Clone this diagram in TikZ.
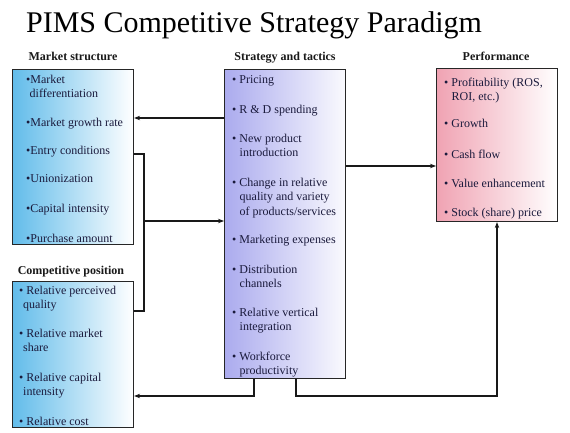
\documentclass[tikz,border=0pt]{standalone}
\usepackage{fontspec}
\setmainfont{Liberation Serif}
\usetikzlibrary{arrows.meta}
\definecolor{txt}{HTML}{1A1A3C}
\definecolor{msblue}{HTML}{62BCEA}
\definecolor{stpurple}{HTML}{ABABEE}
\definecolor{pfpink}{HTML}{F0A3B3}
\newcommand\pbul{\textbullet}
\tikzset{
  box/.style={draw=black!85, line width=1.1pt, inner sep=0pt, anchor=north west, rectangle},
  boxtitle/.style={font=\fontsize{12}{14}\selectfont\bfseries, text=black!90, anchor=base, inner sep=0pt},
  itemtxt/.style={font=\fontsize{12}{14.5}\selectfont, text=txt, anchor=north west, inner sep=0pt, align=left},
  conn/.style={line width=1.1pt, draw=black!90},
  arr/.style={conn, -{Stealth[length=6pt,width=4.5pt]}},
}
\begin{document}
\begin{tikzpicture}[x=1pt,y=-1pt]
\useasboundingbox[fill=white] (0,0) rectangle (570,433);
% title
\node[font=\fontsize{30}{34}\selectfont, anchor=base, inner sep=0pt] (title) at (254,33) {PIMS Competitive Strategy Paradigm};
% boxes
\node[box, minimum width=121pt, minimum height=175pt, left color=msblue, right color=white] (ms) at (12,69) {};
\node[box, minimum width=121pt, minimum height=146pt, left color=msblue, right color=white] (cp) at (12,281) {};
\node[box, minimum width=121pt, minimum height=309pt, left color=stpurple, right color=white!94!stpurple] (st) at (224,69) {};
\node[box, minimum width=121pt, minimum height=153pt, left color=pfpink, right color=white] (pf) at (436,68) {};
% box titles
\node[boxtitle] (tms) at (73,61) {Market structure};
\node[boxtitle] (tcp) at (71,274) {Competitive position};
\node[boxtitle] (tst) at (285,61) {Strategy and tactics};
\node[boxtitle] (tpf) at (496,61) {Performance};
% market structure items
\node[itemtxt] (m1) at (26,74.5) {\pbul Market\\\hspace*{3.5pt}differentiation};
\node[itemtxt] (m2) at (26,117.5) {\pbul Market growth rate};
\node[itemtxt] (m3) at (26,145.5) {\pbul Entry conditions};
\node[itemtxt] (m4) at (26,174.5) {\pbul Unionization};
\node[itemtxt] (m5) at (26,203.5) {\pbul Capital intensity};
\node[itemtxt] (m6) at (26,233.5) {\pbul Purchase amount};
% competitive position items
\node[itemtxt] (c1) at (19,285.5) {\pbul\ Relative perceived\\\hspace*{4pt}quality};
\node[itemtxt] (c2) at (19,328.5) {\pbul\ Relative market\\\hspace*{4pt}share};
\node[itemtxt] (c3) at (19,372.5) {\pbul\ Relative capital\\\hspace*{4pt}intensity};
\node[itemtxt] (c4) at (19,416.5) {\pbul\ Relative cost};
% strategy items
\node[itemtxt] (s1) at (232,75.5) {\pbul\ Pricing};
\node[itemtxt] (s2) at (232,104.5) {\pbul\ R \& D spending};
\node[itemtxt] (s3) at (232,133.5) {\pbul\ New product\\\hspace*{7.5pt}introduction};
\node[itemtxt] (s4) at (232,177.5) {\pbul\ Change in relative\\\hspace*{7.5pt}quality and variety\\\hspace*{7.5pt}of products/services};
\node[itemtxt] (s5) at (232,234.5) {\pbul\ Marketing expenses};
\node[itemtxt] (s6) at (232,264.5) {\pbul\ Distribution\\\hspace*{7.5pt}channels};
\node[itemtxt] (s7) at (232,307.5) {\pbul\ Relative vertical\\\hspace*{7.5pt}integration};
\node[itemtxt] (s8) at (232,351.5) {\pbul\ Workforce\\\hspace*{7.5pt}productivity};
% performance items
\node[itemtxt] (p1) at (444,77.5) {\pbul\ Profitability (ROS,\\\hspace*{7.5pt}ROI, etc.)};
\node[itemtxt] (p2) at (444,118.5) {\pbul\ Growth};
\node[itemtxt] (p3) at (444,149.5) {\pbul\ Cash flow};
\node[itemtxt] (p4) at (444,178.5) {\pbul\ Value enhancement};
\node[itemtxt] (p5) at (444,207.5) {\pbul\ Stock (share) price};
% connector helper coordinates
\coordinate (y1) at (180,118);
\coordinate (j1) at (144,154);
\coordinate (j2) at (144,311);
\coordinate (j3) at (144,221);
\coordinate (h1) at (390,166);
\coordinate (d1) at (296,396);
\coordinate (d2) at (497,396);
\coordinate (e1) at (254,396);
% connectors
\draw[arr] (st.west |- y1) -- (ms.east |- y1);
\draw[conn] (ms.east |- j1) -- (j1) -- (j2) -- (cp.east |- j2);
\draw[arr] (j3) -- (st.west |- j3);
\draw[arr] (st.east |- h1) -- (pf.west |- h1);
\draw[arr] (st.south -| d1) -- (d1) -- (d2) -- (pf.south -| d2);
\draw[arr] (st.south -| e1) -- (e1) -- (cp.east |- e1);
\end{tikzpicture}
\end{document}
